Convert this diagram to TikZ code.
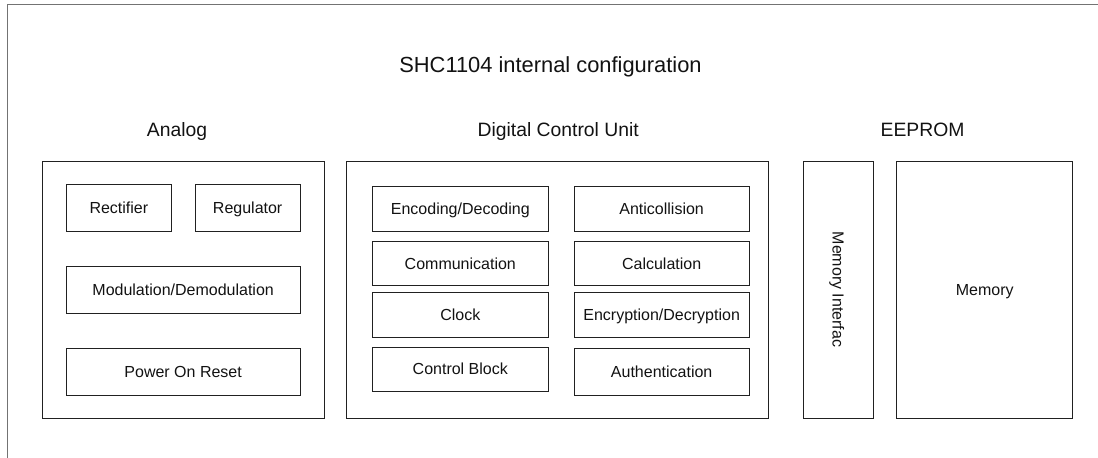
\documentclass[tikz,border=0pt]{standalone}
\usepackage{fontspec}
\setmainfont{Liberation Sans}
\begin{document}
\begin{tikzpicture}[x=0.75pt,y=-0.75pt,
  lbl/.style={font=\fontsize{12}{14}\selectfont, text=black!93, text height=8.6pt, text depth=0pt},
  bx/.style n args={2}{draw=black!87, line width=0.75pt, inner sep=0pt, outer sep=0pt,
    minimum width=#1*0.75pt, minimum height=#2*0.75pt, lbl},
  hdr/.style={anchor=base, font=\fontsize{14.5}{17}\selectfont, text=black!93},
  ttl/.style={anchor=base, font=\fontsize{16.4}{19}\selectfont, text=black!93}]
\useasboundingbox (0,0) rectangle (1098,457);
% outer frame (only top and left edges visible)
\coordinate (ftr) at (1100,4.5);
\coordinate (ftl) at (7.5,4.5);
\coordinate (fbl) at (7.5,460);
\draw[black!55, line width=1.1pt] (ftr) -- (ftl) -- (fbl);
% titles
\node[ttl] (title) at (550.5,72.3) {SHC1104 internal configuration};
\node[hdr] (hAnalog) at (177,136) {Analog};
\node[hdr] (hDCU) at (558.2,136) {Digital Control Unit};
\node[hdr] (hEE) at (922.5,136) {EEPROM};
% Analog
\node[bx={281.3}{257}] (analog) at (183.35,289.5) {};
\node[bx={105.7}{46.7}] (rect) at (118.85,207.65) {Rectifier};
\node[bx={105.3}{46.7}] (reg) at (247.65,207.65) {Regulator};
\node[bx={234.3}{46.3}] (mod) at (183.15,289.85) {Modulation/Demodulation};
\node[bx={234.3}{46.3}] (por) at (183.15,371.85) {Power On Reset};
% Digital Control Unit
\node[bx={421.6}{257}] (dcu) at (557.5,289.5) {};
\node[bx={176}{44.3}] (enc) at (460.3,208.85) {Encoding/Decoding};
\node[bx={176}{44.7}] (com) at (460.3,263.35) {Communication};
\node[bx={176}{44.6}] (clk) at (460.3,315) {Clock};
\node[bx={176}{44.3}] (ctl) at (460.3,369.15) {Control Block};
\node[bx={175.3}{44.3}] (anti) at (661.65,208.85) {Anticollision};
\node[bx={175.3}{44.7}] (calc) at (661.65,263.35) {Calculation};
\node[bx={175.3}{44.6}] (encr) at (661.65,315) {Encryption/Decryption};
\node[bx={175.3}{47}] (auth) at (661.65,372.2) {Authentication};
% EEPROM
\node[bx={70}{257}] (mif) at (838.3,289.5) {};
\node[rotate=-90, lbl, inner sep=0pt] (miflbl) at (mif.center) {Memory Interfac};
\node[bx={176}{257}] (mem) at (984.7,289.5) {Memory};
\end{tikzpicture}
\end{document}
